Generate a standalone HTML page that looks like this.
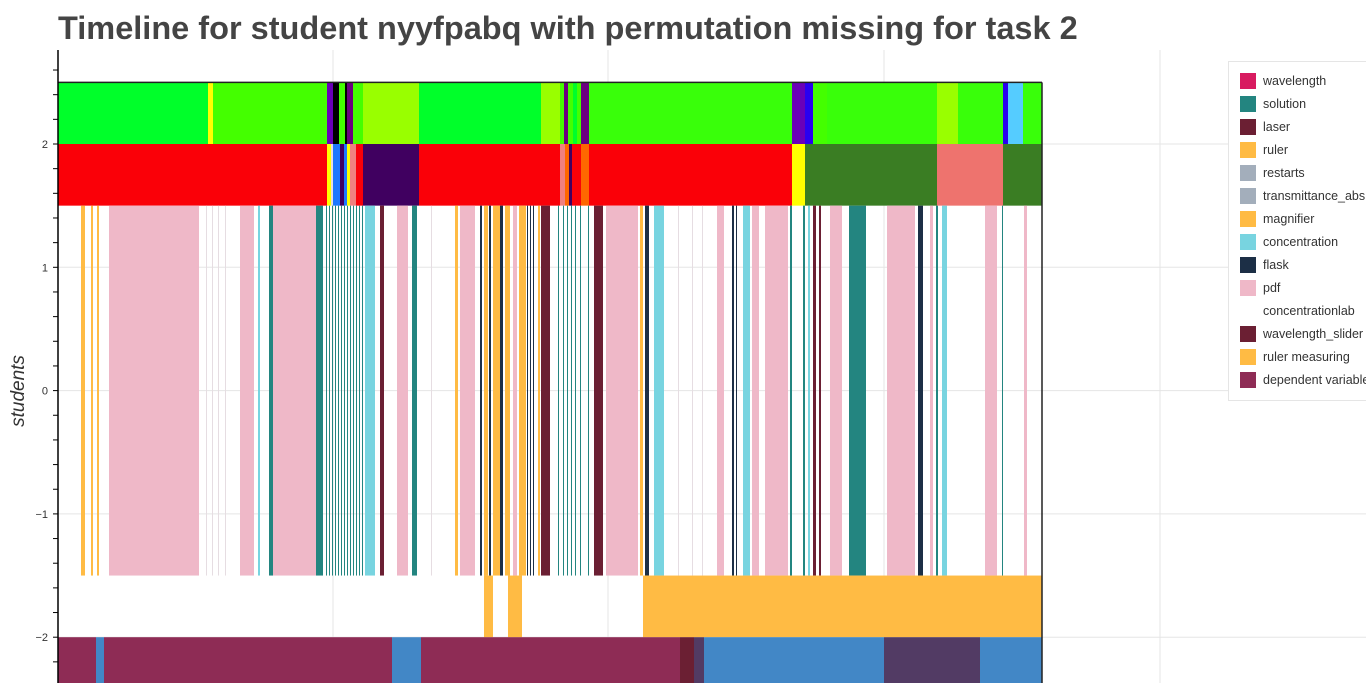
<!DOCTYPE html>
<html><head><meta charset="utf-8">
<style>
body{margin:0;background:#fff;font-family:"Liberation Sans",sans-serif;overflow:hidden}
svg{display:block}
</style></head>
<body>
<svg id="chart" width="1366" height="683"></svg>
<script>
// time domain (arbitrary units), categories (row centre values)
const timeDomain = [0, 984];
const yDomain = [-2.5, 2.5];
const yTicks = [-2, -1, 0, 1, 2];
const yTickLabels = ["\u22122", "\u22121", "0", "1", "2"];
const xGridTimes = [275, 550, 826, 1102];
const palette = {G1:"#00ff2a",G2:"#44ff00",G3:"#99ff00",G4:"#39ff0a",Y:"#ffff00",K:"#000000",P:"#6a00b8",PB:"#2a00f0",PU:"#6b0080",LB:"#55ccff",
 R:"#fa0008",BL:"#1e78ff",DP:"#400060",SA:"#f08080",OR:"#ff6600",DG:"#3a7d23",SL:"#ee736e",
 pk:"#efb8c8",tl:"#238580",cy:"#78d4e0",mr:"#6b1f33",nv:"#1c2f46",og:"#ffbb44",fg:"#e6dde2",
 dv:"#8e2c55",bu:"#4287c6",pp:"#523b64"};
// each segment: [start, end, colourKey]
const rowTopStart = [0,150,155,170,269,275,281,287,289,295,305,361,483,502,506,510,515,519,523,531,734,747,755,769,879,900,945,950,965];
const rowTopEnd   = [150,155,170,269,275,281,287,289,295,305,361,483,502,506,510,515,519,523,531,734,747,755,769,879,900,945,950,965,984];
const rowTopColor = ["G1","Y","G2","G2","P","K","G2","K","PU","G2","G3","G1","G3","G2","PU","G2","G1","G2","PU","G4","P","PB","G2","G4","G3","G4","PB","LB","G4"];
const rowRedStart = [0,269,273,275,282,286,289,292,298,305,361,502,507,511,514,523,531,734,747,879,945];
const rowRedEnd   = [269,273,275,282,286,289,292,298,305,361,502,507,511,514,523,531,734,747,879,945,984];
const rowRedColor = ["R","Y","fg","BL","DP","BL","Y","SA","R","DP","R","SA","OR","DP","R","OR","R","Y","DG","SL","DG"];
const rowMidStart = [23,33,39,51,148,154,160,167,182,200,211,215,258,268,271,274,277,280,283,286,289,292,295,298,301,304,307,322,339,354,373,397,402,422,426,431,435,442,447,455,461,469,472,475,480,483,500,505,509,513,517,522,530,536,548,582,587,596,620,634,644,659,674,678,685,694,707,732,745,750,755,761,772,791,829,860,872,878,884,927,944,966];
const rowMidEnd   = [27,35,41,141,149,155,161,168,196,202,215,258,265,269,272,275,278,281,284,287,290,293,296,299,302,305,317,326,350,359,374,400,417,424,430,433,442,445,452,459,468,470,473,476,482,492,501,506,510,514,518,523,531,545,580,585,591,606,621,635,645,666,676,679,692,701,730,734,747,752,758,763,784,808,857,865,875,880,889,939,945,969];
const rowMidColor = ["og","og","og","pk","fg","fg","fg","fg","pk","cy","tl","pk","tl","tl","tl","tl","tl","tl","tl","tl","tl","tl","tl","tl","tl","tl","cy","mr","pk","tl","fg","og","pk","nv","og","nv","og","nv","og","pk","og","nv","nv","nv","og","mr","tl","tl","tl","tl","tl","tl","tl","mr","pk","og","nv","cy","fg","fg","fg","pk","nv","nv","cy","pk","pk","tl","tl","cy","mr","mr","pk","tl","pk","nv","pk","tl","cy","pk","tl","pk"];
const rowOrgStart = [426,450,585];
const rowOrgEnd   = [435,464,984];
const rowOrgColor = ["og","og","og"];
const rowBotStart = [0,38,46,334,363,622,636,646,826,922];
const rowBotEnd   = [38,46,334,363,622,636,646,826,922,984];
const rowBotColor = ["dv","bu","dv","bu","dv","mr","pp","bu","pp","bu"];
const rowBands = [[2,2.5],[1.5,2],[-1.5,1.5],[-2,-1.5],[-2.5,-2]];
const legendLabels = ["wavelength","solution","laser","ruler","restarts","transmittance_abs","magnifier","concentration","flask","pdf","concentrationlab","wavelength_slider","ruler measuring","dependent variable"];
const legendColors = ["#d81b60","#238580","#6b1f33","#ffbb44","#a3aebb","#a3aebb","#ffbb44","#78d4e0","#1c2f46","#efb8c8","none","#6b1f33","#ffbb44","#8e2c55"];

const X0=58,X1=1042,Y2=144,PX=123.3;
const xs = t => X0 + (t - timeDomain[0]) / (timeDomain[1]-timeDomain[0]) * (X1-X0);
const ys = v => Y2 - (v - 2) * PX;
const NS="http://www.w3.org/2000/svg";
const svg=document.getElementById('chart');
function mk(tag,attrs,parent){const e=document.createElementNS(NS,tag);for(const k in attrs)e.setAttribute(k,attrs[k]);(parent||svg).appendChild(e);return e;}

// title
let t=mk('text',{x:58,y:39,'font-size':32.5,'font-weight':'bold',fill:'#444'});
t.textContent="Timeline for student nyyfpabq with permutation missing for task 2";



// grid
const grid=mk('g',{});


xGridTimes.forEach(g=>{const x=xs(g);mk('line',{x1:x,x2:x,y1:50,y2:683,stroke:'#e5e5e5'},grid);});
yTicks.forEach(v=>{mk('line',{x1:X0,x2:1366,y1:ys(v),y2:ys(v),stroke:'#e5e5e5'},grid);});

// bars
const rows=[[rowTopStart,rowTopEnd,rowTopColor],[rowRedStart,rowRedEnd,rowRedColor],[rowMidStart,rowMidEnd,rowMidColor],[rowOrgStart,rowOrgEnd,rowOrgColor],[rowBotStart,rowBotEnd,rowBotColor]];
rows.forEach((r,ri)=>{
  const g=mk('g',{});
  
  
  const [lo,hi]=rowBands[ri];
  r[0].forEach((s,i)=>{
    const x=xs(s),w=Math.max(xs(r[1][i])-x,1);
    const rc=mk('rect',{x:x,y:ys(hi),width:w,height:ys(lo)-ys(hi),fill:palette[r[2][i]]},g);
    
    
  });
});
// plot border
mk('line',{x1:X0,x2:X1,y1:ys(2.5),y2:ys(2.5),stroke:'#222','stroke-width':1.5});
mk('line',{x1:X1,x2:X1,y1:ys(2.5),y2:683,stroke:'#222','stroke-width':1.5});

// y axis
const ax=mk('g',{});


mk('line',{x1:X0,x2:X0,y1:50,y2:683,stroke:'#000','stroke-width':1.5},ax);
for(let v=-2.4;v<=2.61;v+=0.2){mk('line',{x1:X0-5,x2:X0,y1:ys(v),y2:ys(v),stroke:'#000'},ax);}
yTicks.forEach((v,i)=>{const tt=mk('text',{x:48,y:ys(v)+4,'font-size':11,'text-anchor':'end',fill:'#333'},ax);tt.textContent=yTickLabels[i];});
const yt=mk('text',{x:24,y:391,'font-size':19,'font-style':'italic',fill:'#333','text-anchor':'middle',transform:'rotate(-90 24 391)'});
yt.textContent="students";



// legend
const lg=mk('g',{});


mk('rect',{x:1228.5,y:61.5,width:150,height:339,fill:'#fff',stroke:'#e5e5e5'},lg);
legendLabels.forEach((l,i)=>{
  const y=73+i*23;
  const e=mk('g',{},lg);
  
  
  if(legendColors[i]!=='none')mk('rect',{x:1240,y:y,width:16,height:16,fill:legendColors[i]},e);
  const tx=mk('text',{x:1263,y:y+12,'font-size':12.5,fill:'#333'},e);tx.textContent=l;
});
</script>
</body></html>
